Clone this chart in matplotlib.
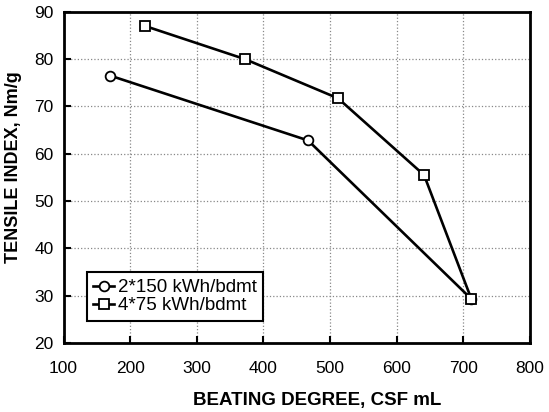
import matplotlib
matplotlib.use("Agg")
import matplotlib.pyplot as plt

plt.rcParams['font.family'] = ['Liberation Sans', 'DejaVu Sans']

x_circle = [170, 467, 712]
y_circle = [76.5, 62.8, 29.3]
x_square = [222, 372, 512, 641, 712]
y_square = [87.0, 80.0, 71.7, 55.5, 29.3]
labels = ['2*150 kWh/bdmt', '4*75 kWh/bdmt']

fig = plt.figure(figsize=(5.49, 4.12), dpi=100)
ax = fig.add_axes([0.1157, 0.1675, 0.8497, 0.804])

ax.plot(x_circle, y_circle, '-o', color='black', lw=1.9, ms=7,
        mfc='white', mec='black', mew=1.3, label=labels[0], zorder=3)
ax.plot(x_square, y_square, '-s', color='black', lw=1.9, ms=7,
        mfc='white', mec='black', mew=1.3, label=labels[1], zorder=3)

ax.set_xlim(100, 800)
ax.set_ylim(20, 90)
ax.set_xticks(range(100, 801, 100))
ax.set_yticks(range(20, 91, 10))
ax.grid(True, linestyle=':', color='#888888', lw=0.9)
ax.tick_params(direction='in', length=5, width=1.5, labelsize=12.5)
ax.tick_params(axis='x', pad=13)
ax.tick_params(axis='y', pad=7)
for s in ax.spines.values():
    s.set_linewidth(2)

ax.set_xlabel('BEATING DEGREE, CSF mL', fontsize=13.5, fontweight='bold')
ax.set_ylabel('TENSILE INDEX, Nm/g', fontsize=13, fontweight='bold')
ax.xaxis.set_label_coords(0.543, -0.148)
ax.yaxis.set_label_coords(-0.088, 0.531)

leg = ax.legend(loc='lower left', bbox_to_anchor=(0.05, 0.067), fontsize=13.5,
                frameon=True, fancybox=False, handlelength=1.1, handletextpad=0.2,
                borderpad=0.35, labelspacing=0.05, borderaxespad=0)
leg.get_frame().set_edgecolor('black')
leg.get_frame().set_linewidth(1.5)
leg.get_frame().set_alpha(1)

fig.savefig('out.png', dpi=100)
